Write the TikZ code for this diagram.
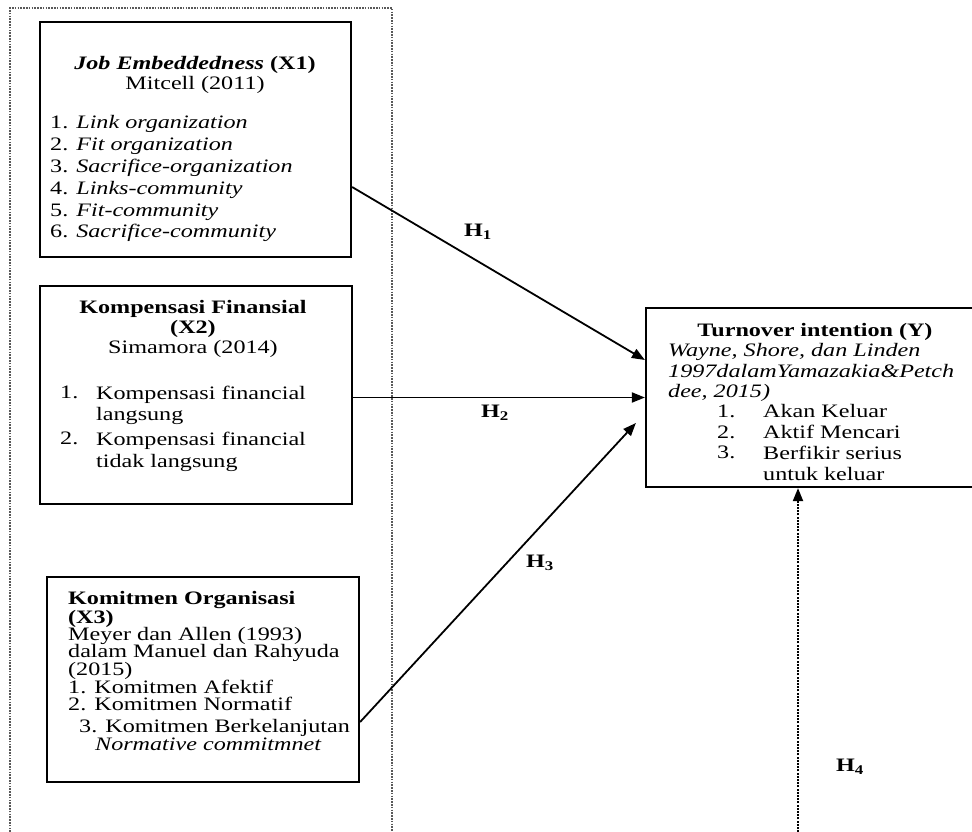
\documentclass[tikz,border=0pt]{standalone}
\usepackage{fontspec}
\setmainfont{Liberation Serif}[FakeStretch=1.27]
\usetikzlibrary{arrows.meta}
\begin{document}
\begin{tikzpicture}[x=1pt,y=-1pt,
  box/.style={draw, line width=2.2pt, inner sep=0pt},
  txt/.style={inner sep=0pt, font=\fontsize{19}{21.8}\selectfont},
  arr/.style={line width=1.8pt, -{Triangle[length=13pt,width=10pt]}},
  hlab/.style={inner sep=0pt, font=\fontsize{19}{20}\selectfont\bfseries},
  outer/.style={draw=black!65, line width=1.5pt, dash pattern=on 1.6pt off 1.2pt}]
\clip (0,0) rectangle (972,832);
\fill[white] (0,0) rectangle (972,832);

% outer dotted frame (open below the picture)
\draw[outer] (10,860) -- (10,8) -- (392,8) -- (392,860);

% boxes
\node[box, minimum width=311pt, minimum height=235pt] (x1) at (195.5,139.5) {};
\node[box, minimum width=312pt, minimum height=218pt] (x2) at (196,395) {};
\node[box, minimum width=312pt, minimum height=205pt] (x3) at (203,679.5) {};
\node[box, minimum width=334pt, minimum height=179pt] (y) at (813,397.5) {};

% X1 text
\node[txt, align=center, anchor=north, font=\fontsize{19}{19.5}\selectfont] (x1h) at (195,56.5)
  {\textbf{\textit{Job Embeddedness}} \textbf{(X1)}\\Mitcell (2011)};
\node[txt, align=left, anchor=north west] (x1l) at (50,115.5)
  {1. \textit{Link organization}\\2. \textit{Fit organization}\\3. \textit{Sacrifice-organization}\\4. \textit{Links-community}\\5. \textit{Fit-community}\\6. \textit{Sacrifice-community}};

% X2 text
\node[txt, align=center, anchor=north, font=\fontsize{19}{20}\selectfont] (x2h) at (193,300.5)
  {\textbf{Kompensasi Finansial}\\\textbf{(X2)}\\Simamora (2014)};
\node[txt, align=left, anchor=north west, font=\fontsize{19}{21.5}\selectfont] (x2n) at (60,385.5)
  {1.\\[24.5pt]2.};
\node[txt, align=left, anchor=north west, font=\fontsize{19}{21.5}\selectfont] (x2t) at (96,385.5)
  {Kompensasi financial\\langsung\\[3.5pt]Kompensasi financial\\tidak langsung};

% X3 text
\node[txt, align=left, anchor=north west, font=\fontsize{19}{17.3}\selectfont] (x3a) at (68,591.5)
  {\textbf{Komitmen Organisasi}\\\textbf{(X3)}\\Meyer dan Allen (1993)\\dalam Manuel dan Rahyuda\\(2015)\\1. Komitmen Afektif\\2. Komitmen Normatif};
\node[txt, align=left, anchor=north west, font=\fontsize{19}{16.5}\selectfont] (x3b) at (79,719.5)
  {3. Komitmen Berkelanjutan\\\hspace*{16pt}\textit{Normative commitmnet}};

% Y text
\node[txt, anchor=north] (yh) at (815,323.5) {\textbf{Turnover intention (Y)}};
\node[txt, align=left, anchor=north west, font=\fontsize{19}{20.3}\selectfont\itshape] (yi) at (668,343.5)
  {Wayne, Shore, dan Linden\\1997dalamYamazakia\&Petch\\dee, 2015)};
\node[txt, align=left, anchor=north west, font=\fontsize{19}{20.8}\selectfont] (yn) at (717,404.5)
  {1.\\2.\\3.};
\node[txt, align=left, anchor=north west, font=\fontsize{19}{20.8}\selectfont] (yt) at (763,404.5)
  {Akan Keluar\\Aktif Mencari\\Berfikir serius\\untuk keluar};

% connectors
\draw[arr] ([yshift=-47.5pt]x1.east) -- ([yshift=37.5pt]y.west);
\draw[arr] (x2.east |- y.west) -- (y.west);
\draw[arr] ([yshift=-42.5pt]x3.east) -- ([xshift=-9pt,yshift=-25.5pt]y.west);
\coordinate (h4s) at (798,845);
\draw[line width=2pt, dash pattern=on 2pt off 1.2pt, -{Triangle[length=13pt,width=10pt]}] (h4s) -- (h4s |- y.south);

% labels
\node[hlab] (h1) at (478,232) {H\textsubscript{1}};
\node[hlab] (h2) at (495,413) {H\textsubscript{2}};
\node[hlab] (h3) at (540,563) {H\textsubscript{3}};
\node[hlab] (h4) at (850,767) {H\textsubscript{4}};
\end{tikzpicture}
\end{document}
